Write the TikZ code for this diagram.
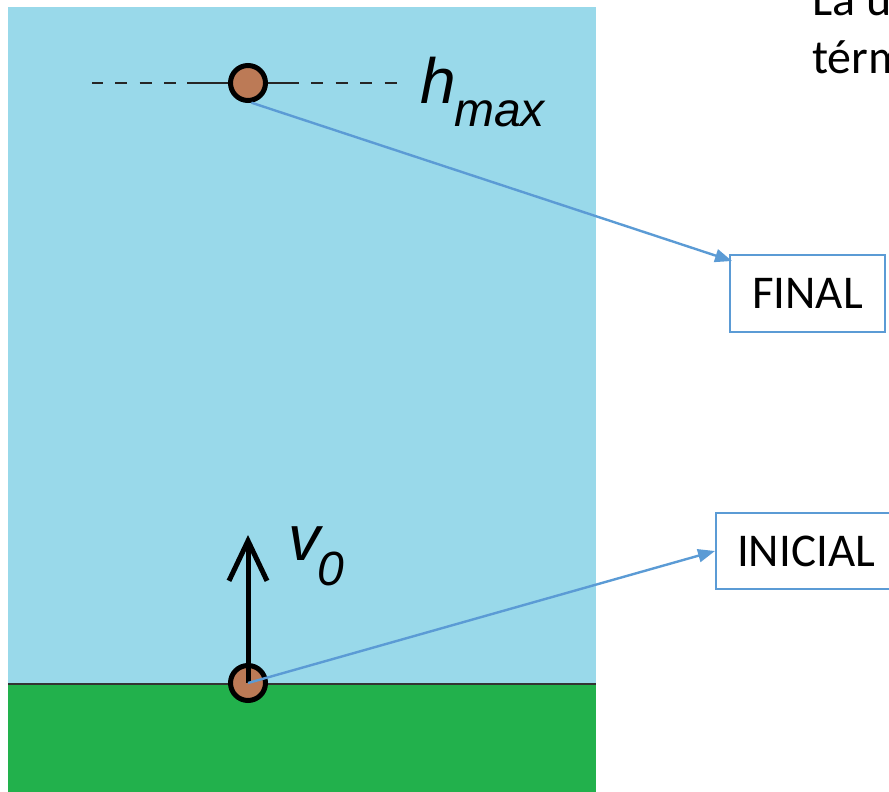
\documentclass[tikz,border=0pt]{standalone}
\usepackage{fontspec}
\setmainfont{Carlito}
\newfontfamily\arialf{Liberation Sans}
\usetikzlibrary{arrows.meta,calc}
\definecolor{sky}{RGB}{153,217,234}
\definecolor{grass}{RGB}{34,177,76}
\definecolor{ballc}{RGB}{188,122,86}
\definecolor{linkc}{RGB}{91,155,213}
\tikzset{
  ball/.style={circle, draw=black, line width=5pt, fill=ballc, minimum size=35pt, inner sep=0pt},
  conn/.style={draw=linkc, line width=2.4pt, -{Triangle[length=17pt,width=13pt]}},
  labelbox/.style={draw=linkc, line width=2pt, fill=white, inner sep=0pt, font=\fontsize{47}{56}\selectfont},
  bigit/.style={inner sep=0pt, font=\arialf\itshape\fontsize{64}{70}\selectfont},
  subit/.style={inner sep=0pt, font=\arialf\itshape\fontsize{48}{54}\selectfont},
  sidetext/.style={inner sep=0pt, anchor=base west, font=\fontsize{48}{58}\selectfont}
}
\begin{document}
\begin{tikzpicture}[x=1pt,y=-1pt]
\useasboundingbox (0,0) rectangle (889,792);
% scene
\fill[sky] (8,7) rectangle (596,684);
\fill[grass] (8,684) rectangle (596,792);
\draw[line width=2.2pt, black!80] (8,684) -- (596,684);
% dashed height line
\draw[line width=2pt, black!85, dash pattern=on 12pt off 12.5pt, dash phase=1.5pt] (92,83) -- (408,83);
\draw[line width=2pt, black!85] (187,83) -- (293,83);
% balls
\node[ball] (top) at (248,83) {};
\node[ball] (bot) at (248,683) {};
% velocity arrow
\coordinate (tip) at (248,535);
\draw[line width=5pt, -{Straight Barb[length=40pt,width=38pt]}] (bot.center) -- (tip);
% labels
\node[bigit, anchor=base west] (h) at (420,103) {h};
\node[subit, anchor=base west] (hsub) at (454,126) {max};
\node[bigit, anchor=base west] (v) at (288,560) {v};
\node[subit, anchor=base west] (vsub) at (317,585) {0};
% boxes
\node[labelbox, minimum width=155pt, minimum height=77pt] (final) at (807.5,293.5) {FINAL};
\node[labelbox, minimum width=180pt, minimum height=76pt] (inicial) at (806,551) {INICIAL};
% connectors
\draw[conn] (top.-80) -- ([shift={(3,7)}]final.north west);
\draw[conn] (bot.center) -- (inicial.west);
% side text
\node[sidetext] (t1) at (812,16) {La u};
\node[sidetext] (t2) at (812,74) {térm};
\end{tikzpicture}
\end{document}
